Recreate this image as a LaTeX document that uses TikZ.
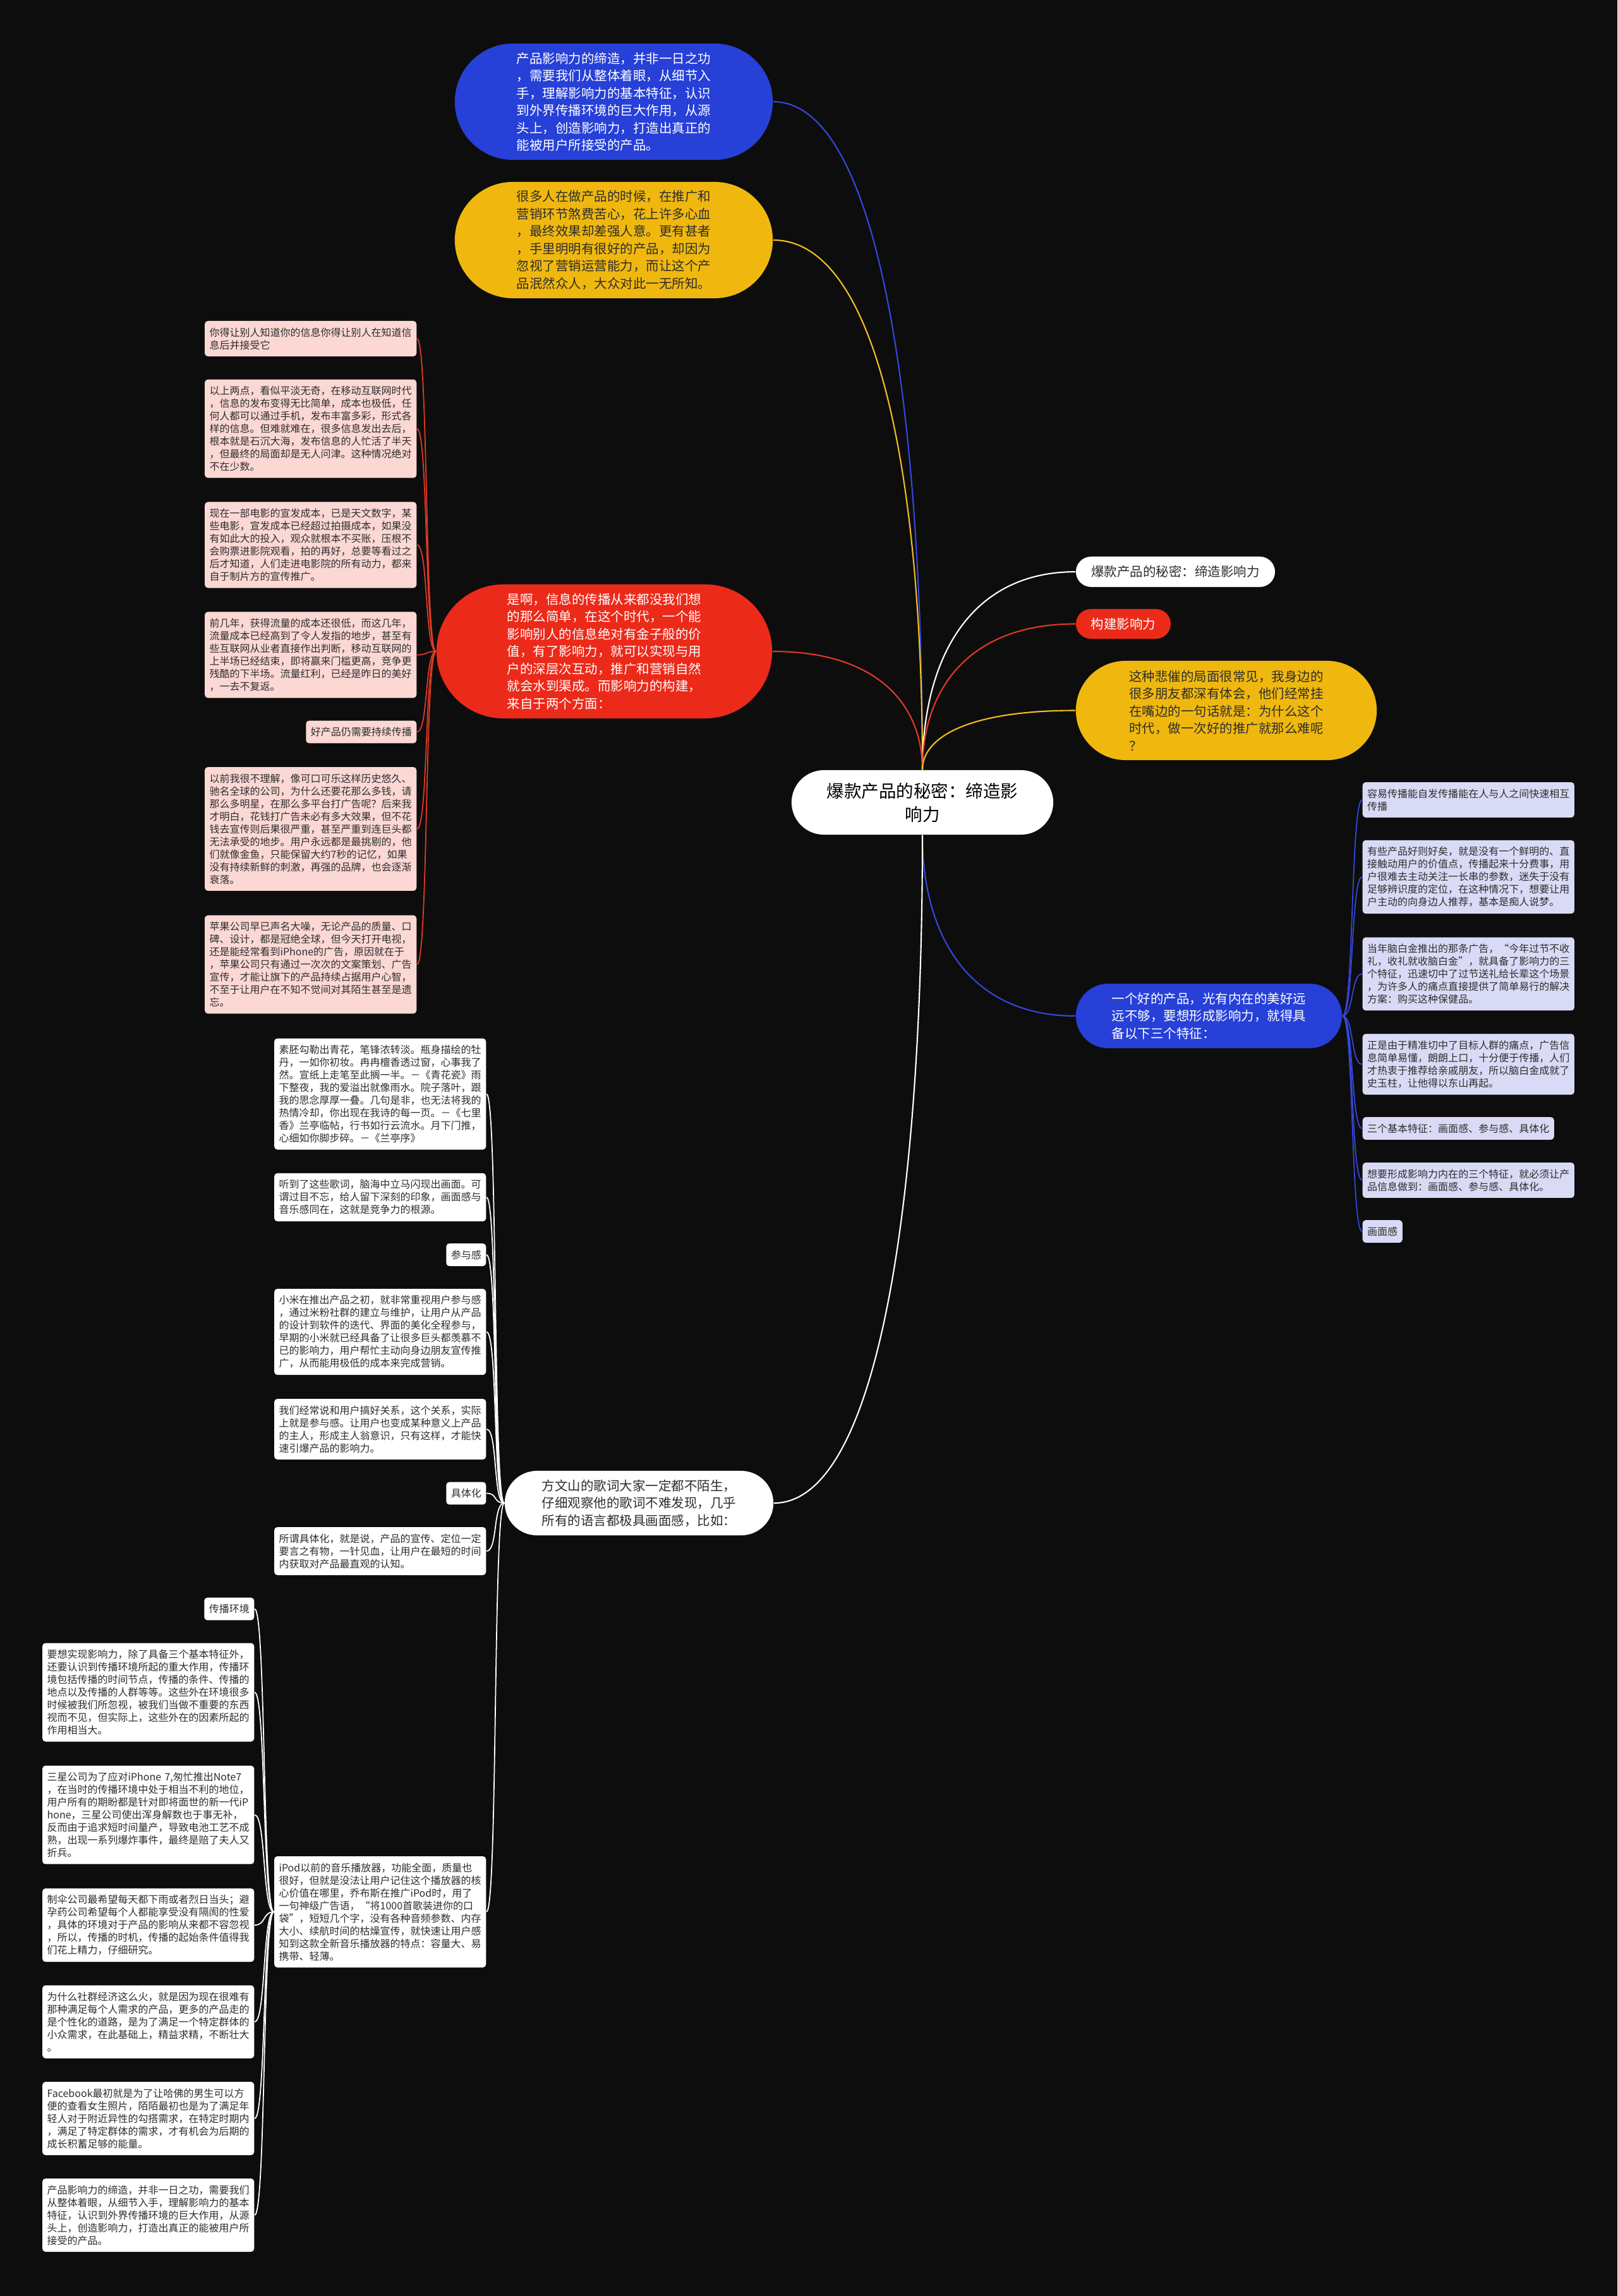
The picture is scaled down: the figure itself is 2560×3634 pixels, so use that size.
\documentclass[tikz,border=0pt]{standalone}
\usepackage{fontspec}
\setmainfont{Noto Sans CJK SC}
\usetikzlibrary{calc}

\definecolor{bgdark}{RGB}{13,13,13}
\definecolor{pillblue}{RGB}{38,64,216}
\definecolor{pillyellow}{RGB}{240,184,14}
\definecolor{pillred}{RGB}{236,42,26}
\definecolor{cardpink}{RGB}{251,216,212}
\definecolor{cardlilac}{RGB}{217,219,246}
\definecolor{inkdark}{RGB}{45,45,45}
\definecolor{lineblue}{RGB}{52,72,220}
\definecolor{lineyellow}{RGB}{242,190,30}
\definecolor{linered}{RGB}{226,58,38}

\newcommand\cardfont{\fontsize{4.55pt}{5.69pt}\selectfont}
\newcommand\pillfont{\fontsize{5.83pt}{7.82pt}\selectfont}
\newcommand\rootfont{\fontsize{7.82pt}{10.5pt}\selectfont}

\begin{document}
\begin{tikzpicture}[
  x=0.01cm, y=-0.01cm,
  root/.style={fill=white, text=black, font=\rootfont, align=center, rounded corners=0.51cm, minimum width=4.14cm, minimum height=1.02cm, inner sep=0pt},
  pill/.style={font=\pillfont, align=left, inner sep=0pt},
  card/.style={font=\cardfont, text=inkdark, align=left, text width=3.2cm, inner xsep=0.075cm, inner ysep=0.105cm, rounded corners=0.05cm},
  tag/.style={font=\cardfont, text=inkdark, inner xsep=0.075cm, inner ysep=0.105cm, rounded corners=0.05cm},
  branch/.style={line width=0.6pt, to path={.. controls ($(\tikztostart)!0.55!(\tikztostart |- \tikztotarget)$) and ($(\tikztotarget)!0.7!(\tikztostart |- \tikztotarget)$) .. (\tikztotarget)}},
  twigl/.style={line width=0.5pt, to path={.. controls +(-18,0) and +(18,0) .. (\tikztotarget)}},
  twigr/.style={line width=0.5pt, to path={.. controls +(18,0) and +(-18,0) .. (\tikztotarget)}}
]
\useasboundingbox (0,0) rectangle (2560,3634);
\fill[bgdark] (0,0) rectangle (2560,3634);

\node[root] (root) at (1460,1270) {爆款产品的秘密：缔造影\\响力};

\node[pill, fill=pillblue, text=white, minimum width=5.03cm, minimum height=1.84cm, rounded corners=0.92cm] (btop) at (971.5,161)
  {产品影响力的缔造，并非一日之功\\，需要我们从整体着眼，从细节入\\手，理解影响力的基本特征，认识\\到外界传播环境的巨大作用，从源\\头上，创造影响力，打造出真正的\\能被用户所接受的产品。};
\node[pill, fill=pillyellow, text=inkdark, minimum width=5.03cm, minimum height=1.84cm, rounded corners=0.92cm] (ytop) at (971.5,380)
  {很多人在做产品的时候，在推广和\\营销环节煞费苦心，花上许多心血\\，最终效果却差强人意。更有甚者\\，手里明明有很好的产品，却因为\\忽视了营销运营能力，而让这个产\\品泯然众人，大众对此一无所知。};
\node[pill, fill=pillred, text=white, minimum width=5.31cm, minimum height=2.12cm, rounded corners=1.06cm] (rinfo) at (956.5,1031)
  {是啊，信息的传播从来都没我们想\\的那么简单，在这个时代，一个能\\影响别人的信息绝对有金子般的价\\值，有了影响力，就可以实现与用\\户的深层次互动，推广和营销自然\\就会水到渠成。而影响力的构建，\\来自于两个方面：};

\node[pill, fill=white, text=inkdark, minimum width=3.15cm, minimum height=0.48cm, rounded corners=0.24cm] (rtitle) at (1860.5,905) {爆款产品的秘密：缔造影响力};
\node[pill, fill=pillred, text=white, minimum width=1.5cm, minimum height=0.47cm, rounded corners=0.235cm] (rbuild) at (1778,987.5) {构建影响力};
\node[pill, fill=pillyellow, text=inkdark, minimum width=4.76cm, minimum height=1.57cm, rounded corners=0.785cm] (ypain) at (1941,1124.5)
  {这种悲催的局面很常见，我身边的\\很多朋友都深有体会，他们经常挂\\在嘴边的一句话就是：为什么这个\\时代，做一次好的推广就那么难呢\\？};
\node[pill, fill=pillblue, text=white, minimum width=4.21cm, minimum height=1.02cm, rounded corners=0.51cm] (bgood) at (1913.5,1608)
  {一个好的产品，光有内在的美好远\\远不够，要想形成影响力，就得具\\备以下三个特征：};
\node[pill, fill=white, text=inkdark, minimum width=4.25cm, minimum height=1.02cm, rounded corners=0.51cm] (wfang) at (1011.5,2379)
  {方文山的歌词大家一定都不陌生，\\仔细观察他的歌词不难发现，几乎\\所有的语言都极具画面感，比如：};

\node[card, fill=cardpink, anchor=east] (r1) at (660,536) {你得让别人知道你的信息你得让别人在知道信\\息后并接受它};
\node[card, fill=cardpink, anchor=east] (r2) at (660,678.5) {以上两点，看似平淡无奇，在移动互联网时代\\，信息的发布变得无比简单，成本也极低，任\\何人都可以通过手机，发布丰富多彩，形式各\\样的信息。但难就难在，很多信息发出去后，\\根本就是石沉大海，发布信息的人忙活了半天\\，但最终的局面却是无人问津。这种情况绝对\\不在少数。};
\node[card, fill=cardpink, anchor=east] (r3) at (660,862.5) {现在一部电影的宣发成本，已是天文数字，某\\些电影，宣发成本已经超过拍摄成本，如果没\\有如此大的投入，观众就根本不买账，压根不\\会购票进影院观看，拍的再好，总要等看过之\\后才知道，人们走进电影院的所有动力，都来\\自于制片方的宣传推广。};
\node[card, fill=cardpink, anchor=east] (r4) at (660,1036.5) {前几年，获得流量的成本还很低，而这几年，\\流量成本已经高到了令人发指的地步，甚至有\\些互联网从业者直接作出判断，移动互联网的\\上半场已经结束，即将赢来门槛更高，竞争更\\残酷的下半场。流量红利，已经是昨日的美好\\，一去不复返。};
\node[tag, fill=cardpink, anchor=east] (r5) at (660,1158.5) {好产品仍需要持续传播};
\node[card, fill=cardpink, anchor=east] (r6) at (660,1312) {以前我很不理解，像可口可乐这样历史悠久、\\驰名全球的公司，为什么还要花那么多钱，请\\那么多明星，在那么多平台打广告呢？后来我\\才明白，花钱打广告未必有多大效果，但不花\\钱去宣传则后果很严重，甚至严重到连巨头都\\无法承受的地步。用户永远都是最挑剔的，他\\们就像金鱼，只能保留大约7秒的记忆，如果\\没有持续新鲜的刺激，再强的品牌，也会逐渐\\衰落。};
\node[card, fill=cardpink, anchor=east] (r7) at (660,1526.5) {苹果公司早已声名大噪，无论产品的质量、口\\碑、设计，都是冠绝全球，但今天打开电视，\\还是能经常看到iPhone的广告，原因就在于\\，苹果公司只有通过一次次的文案策划、广告\\宣传，才能让旗下的产品持续占据用户心智，\\不至于让用户在不知不觉间对其陌生甚至是遗\\忘。};

\node[card, fill=cardlilac, anchor=west] (g1) at (2156,1266) {容易传播能自发传播能在人与人之间快速相互\\传播};
\node[card, fill=cardlilac, anchor=west] (g2) at (2156,1388) {有些产品好则好矣，就是没有一个鲜明的、直\\接触动用户的价值点，传播起来十分费事，用\\户很难去主动关注一长串的参数，迷失于没有\\足够辨识度的定位，在这种情况下，想要让用\\户主动的向身边人推荐，基本是痴人说梦。};
\node[card, fill=cardlilac, anchor=west] (g3) at (2156,1541.5) {当年脑白金推出的那条广告，“今年过节不收\\礼，收礼就收脑白金”，就具备了影响力的三\\个特征，迅速切中了过节送礼给长辈这个场景\\，为许多人的痛点直接提供了简单易行的解决\\方案：购买这种保健品。};
\node[card, fill=cardlilac, anchor=west] (g4) at (2156,1684.5) {正是由于精准切中了目标人群的痛点，广告信\\息简单易懂，朗朗上口，十分便于传播，人们\\才热衷于推荐给亲戚朋友，所以脑白金成就了\\史玉柱，让他得以东山再起。};
\node[tag, fill=cardlilac, anchor=west] (g5) at (2156,1786) {三个基本特征：画面感、参与感、具体化};
\node[card, fill=cardlilac, anchor=west] (g6) at (2156,1868) {想要形成影响力内在的三个特征，就必须让产\\品信息做到：画面感、参与感、具体化。};
\node[tag, fill=cardlilac, anchor=west] (g7) at (2156,1949) {画面感};

\node[card, fill=white, anchor=east] (f1) at (770,1731.5) {素胚勾勒出青花，笔锋浓转淡。瓶身描绘的牡\\丹，一如你初妆。冉冉檀香透过窗，心事我了\\然。宣纸上走笔至此搁一半。－《青花瓷》雨\\下整夜，我的爱溢出就像雨水。院子落叶，跟\\我的思念厚厚一叠。几句是非，也无法将我的\\热情冷却，你出现在我诗的每一页。－《七里\\香》兰亭临帖，行书如行云流水。月下门推，\\心细如你脚步碎。－《兰亭序》};
\node[card, fill=white, anchor=east] (f2) at (770,1895) {听到了这些歌词，脑海中立马闪现出画面。可\\谓过目不忘，给人留下深刻的印象，画面感与\\音乐感同在，这就是竞争力的根源。};
\node[tag, fill=white, anchor=east] (f3) at (770,1986) {参与感};
\node[card, fill=white, anchor=east] (f4) at (770,2108) {小米在推出产品之初，就非常重视用户参与感\\，通过米粉社群的建立与维护，让用户从产品\\的设计到软件的迭代、界面的美化全程参与，\\早期的小米就已经具备了让很多巨头都羡慕不\\已的影响力，用户帮忙主动向身边朋友宣传推\\广，从而能用极低的成本来完成营销。};
\node[card, fill=white, anchor=east] (f5) at (770,2262) {我们经常说和用户搞好关系，这个关系，实际\\上就是参与感。让用户也变成某种意义上产品\\的主人，形成主人翁意识，只有这样，才能快\\速引爆产品的影响力。};
\node[tag, fill=white, anchor=east] (f6) at (770,2363.5) {具体化};
\node[card, fill=white, anchor=east] (f7) at (770,2455) {所谓具体化，就是说，产品的宣传、定位一定\\要言之有物，一针见血，让用户在最短的时间\\内获取对产品最直观的认知。};
\node[card, fill=white, anchor=east] (f8) at (770,3026) {iPod以前的音乐播放器，功能全面，质量也\\很好，但就是没法让用户记住这个播放器的核\\心价值在哪里，乔布斯在推广iPod时，用了\\一句神级广告语，“将1000首歌装进你的口\\袋”，短短几个字，没有各种音频参数、内存\\大小、续航时间的枯燥宣传，就快速让用户感\\知到这款全新音乐播放器的特点：容量大、易\\携带、轻薄。};

\node[tag, fill=white, anchor=east] (p1) at (403,2546.5) {传播环境};
\node[card, fill=white, anchor=east] (p2) at (403,2678.5) {要想实现影响力，除了具备三个基本特征外，\\还要认识到传播环境所起的重大作用，传播环\\境包括传播的时间节点，传播的条件、传播的\\地点以及传播的人群等等。这些外在环境很多\\时候被我们所忽视，被我们当做不重要的东西\\视而不见，但实际上，这些外在的因素所起的\\作用相当大。};
\node[card, fill=white, anchor=east] (p3) at (403,2872.5) {三星公司为了应对iPhone 7,匆忙推出Note7\\，在当时的传播环境中处于相当不利的地位，\\用户所有的期盼都是针对即将面世的新一代iP\\hone，三星公司使出浑身解数也于事无补，\\反而由于追求短时间量产，导致电池工艺不成\\熟，出现一系列爆炸事件，最终是赔了夫人又\\折兵。};
\node[card, fill=white, anchor=east] (p4) at (403,3047) {制伞公司最希望每天都下雨或者烈日当头；避\\孕药公司希望每个人都能享受没有隔阂的性爱\\，具体的环境对于产品的影响从来都不容忽视\\，所以，传播的时机，传播的起始条件值得我\\们花上精力，仔细研究。};
\node[card, fill=white, anchor=east] (p5) at (403,3200) {为什么社群经济这么火，就是因为现在很难有\\那种满足每个人需求的产品，更多的产品走的\\是个性化的道路，是为了满足一个特定群体的\\小众需求，在此基础上，精益求精，不断壮大\\。};
\node[card, fill=white, anchor=east] (p6) at (403,3353) {Facebook最初就是为了让哈佛的男生可以方\\便的查看女生照片，陌陌最初也是为了满足年\\轻人对于附近异性的勾搭需求，在特定时期内\\，满足了特定群体的需求，才有机会为后期的\\成长积蓄足够的能量。};
\node[card, fill=white, anchor=east] (p7) at (403,3506) {产品影响力的缔造，并非一日之功，需要我们\\从整体着眼，从细节入手，理解影响力的基本\\特征，认识到外界传播环境的巨大作用，从源\\头上，创造影响力，打造出真正的能被用户所\\接受的产品。};

\draw[lineblue, branch] (root.north) to (btop.east);
\draw[lineyellow, branch] (root.north) to (ytop.east);
\draw[linered, branch] (root.north) to (rinfo.east);
\draw[white, branch] (root.north) to (rtitle.west);
\draw[linered, branch] (root.north) to (rbuild.west);
\draw[lineyellow, branch] (root.north) to (ypain.west);
\draw[lineblue, branch] (root.south) to (bgood.west);
\draw[white, branch] (root.south) to (wfang.east);

\foreach \k in {1,...,7}
  \draw[linered, twigl] (rinfo.west) to (r\k.east);
\foreach \k in {1,...,7}
  \draw[lineblue, twigr] (bgood.east) to (g\k.west);
\foreach \k in {1,...,8}
  \draw[white, twigl] (wfang.west) to (f\k.east);
\foreach \k in {1,...,7}
  \draw[white, twigl] (f8.west) to (p\k.east);

\end{tikzpicture}
\end{document}
